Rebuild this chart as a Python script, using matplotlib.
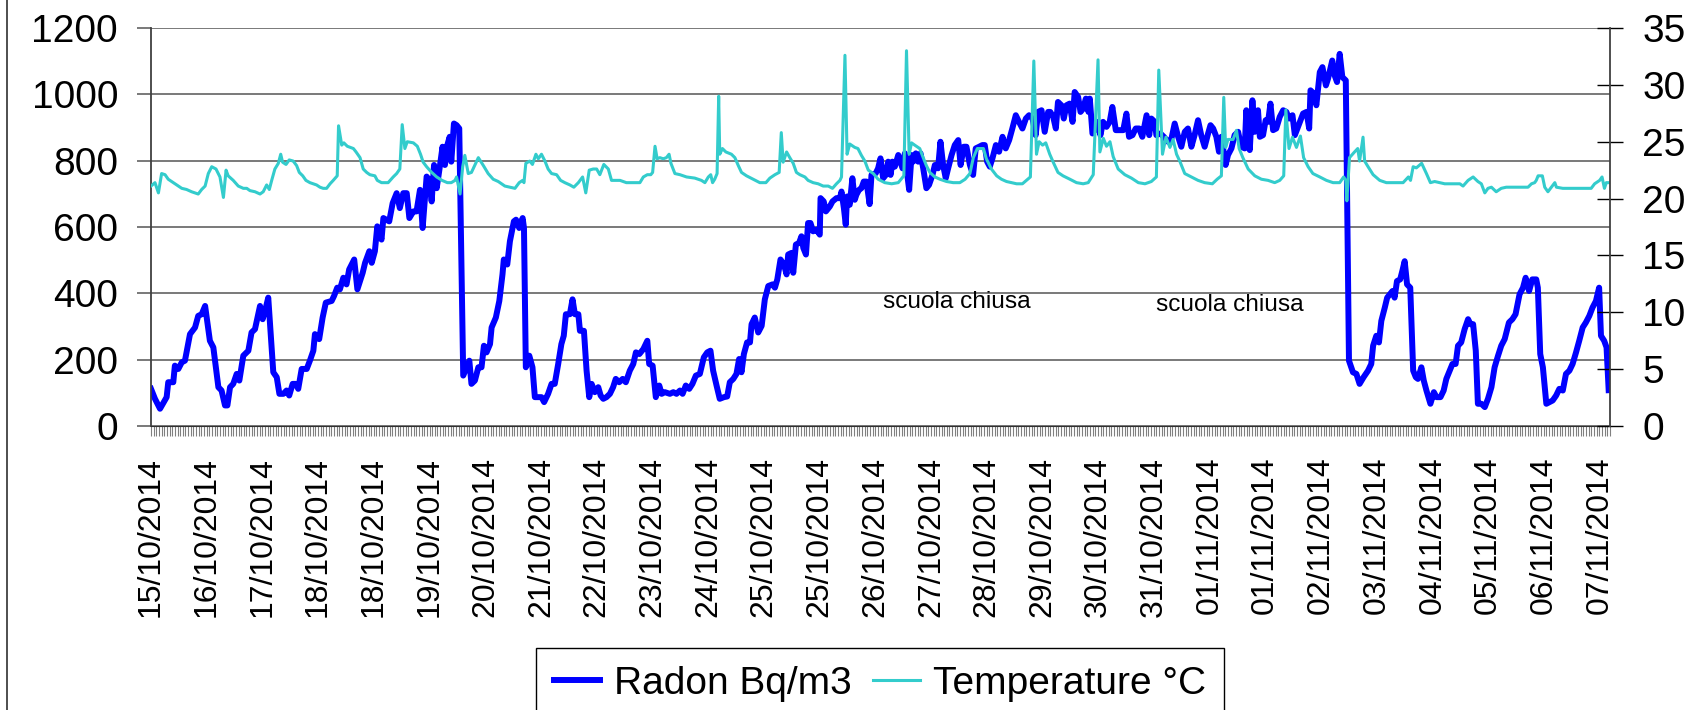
import matplotlib.pyplot as plt
from matplotlib.lines import Line2D
from matplotlib.ticker import MultipleLocator

plt.rcParams['font.family'] = ['Liberation Sans', 'DejaVu Sans']

# hourly readings (index in hours from the first sample)
radon_hour = [
    0, 1.5, 3.4, 5.9, 6.5, 8.4, 9.0, 10.3, 11.6, 12.8, 14.7, 16.6, 17.8, 19.1, 20.4, 22.2,
    23.5, 25.4, 26.6, 27.9, 28.8, 29.8, 31.0, 32.3, 33.3, 34.8, 36.7, 37.9, 39.2, 41.1, 42.1,
    43.0, 44.2, 46.1, 47.4, 48.4, 49.9, 51.1, 52.1, 53.4, 54.6, 55.5, 56.8, 58.7, 59.9, 61.2,
    61.8, 63.4, 64.7, 65.9, 68.1, 69.0, 70.2, 71.2, 72.5, 73.7, 74.7, 76.6, 77.8, 79.8, 80.7,
    82.3, 83.2, 84.4, 85.3, 86.9, 87.6, 89.8,
    91.1, 92.6, 93.8, 95.1, 96.4, 97.4, 98.9, 100.1, 101.4, 102.4, 103.9, 104.9, 105.8, 106.7,
    107.7, 108.7, 109.9, 110.8, 111.7, 112.6, 113.2, 114.2, 115.2, 116.2, 117.7, 119.0, 120.0,
    120.8, 122.1, 123.4, 124.6, 125.5, 126.5, 127.8, 128.4, 130.0, 131.3, 132.5, 133.0, 134.3,
    135.3, 136.8, 137.6, 138.8, 140.1, 140.6, 141.3, 142.6, 143.8, 144.7, 145.9, 147.2, 148.2,
    149.7, 151.0, 152.2, 153.5, 154.7, 155.6, 156.4, 157.9, 158.9, 159.8, 161.1, 161.7, 163.2,
    164.2, 165.2, 166.1, 167.3, 168.6, 169.5, 170.5, 171.7, 173.0, 174.2, 175.2, 176.5, 177.8,
    179.0, 180.5, 181.8, 182.8, 184.1,
    185.6, 187.1, 187.8, 189.1, 190.3, 191.6, 192.5, 193.7, 195.6, 196.9, 198.1, 199.4, 200.4,
    201.6, 202.9, 204.1, 205.4, 206.9, 208.4, 209.7, 210.9, 211.9, 213.2, 214.4, 216.0, 217.2,
    218.2, 219.5, 220.7, 221.7, 222.6, 223.5, 224.7, 225.8, 226.4, 227.6, 228.9, 230.2, 231.4,
    232.7, 234.3, 235.2, 236.1, 237.3, 238.6, 239.6, 240.2, 241.5, 242.1, 243.1, 244.3, 245.2,
    245.9, 246.9, 247.7, 248.6, 249.6, 250.9, 252.1, 252.4, 253.6, 254.4, 255.9, 256.9, 258.4,
    259.7, 260.3, 261.2, 261.9, 262.4, 263.4, 264.4, 265.3, 265.9, 266.9, 267.8, 268.7, 269.7,
    270.9, 271.6, 273.2, 274.1, 275.0, 276.0, 277.0, 277.9, 278.8, 279.5, 280.4, 281.7,
    283.3, 284.2, 284.8, 285.8, 286.7, 287.3, 288.3, 289.2, 290.1, 291.1, 292.3, 293.3, 294.6,
    295.5, 296.7, 297.6, 298.6, 299.6, 300.5, 301.8, 303.0, 304.3, 305.2, 306.4, 307.4, 308.7,
    309.9, 310.9, 312.2, 313.4, 314.3, 315.2, 316.2, 317.2, 318.5, 319.7, 321.0, 322.2, 323.5,
    324.7, 326.0, 327.2, 328.5, 329.8, 331.0, 332.3, 333.5, 334.4, 335.7, 336.9, 338.2, 339.0,
    340.1, 341.1, 341.9, 343.2, 344.1, 345.1, 346.3, 347.4, 348.2, 349.5, 350.4, 351.4, 352.4,
    353.4, 353.9, 354.9, 356.2, 357.0, 357.9, 358.9, 360.2, 361.4, 362.4, 363.7, 365.2, 366.5,
    367.7, 368.7, 370.0, 371.2, 372.5, 373.7,
    375.3, 376.3, 377.1, 378.4, 379.0, 380.5, 381.8, 383.4, 384.7, 385.9, 387.2, 388.4, 389.7,
    390.9, 392.2, 393.4, 394.7, 395.9, 397.2, 398.5, 399.4, 400.4, 401.6, 402.6, 403.5, 405.1,
    406.0, 407.3, 408.5, 409.8, 411.0, 412.3, 412.9, 414.2, 415.2, 416.1, 417.3, 418.0, 419.2,
    420.2, 421.1, 422.0, 423.0, 424.2, 425.5, 426.8, 428.0, 429.0, 430.3, 431.2, 432.4, 434.3,
    435.6, 436.6, 437.1, 438.4, 439.3, 440.6, 441.6, 442.9, 443.7, 445.3, 446.2, 447.1, 448.1,
    449.1, 450.4, 451.6, 453.1, 454.4, 455.6, 457.1, 458.8, 460.0, 460.7, 461.9, 462.9, 463.8,
    465.1, 466.0,
    468.0, 468.8, 469.7, 470.9, 471.7, 472.6, 473.5, 474.7, 475.8, 476.8, 477.6, 478.9, 479.8,
    480.8, 482.3, 483.6, 484.6, 486.1, 487.3, 488.3, 489.6, 490.6, 491.8, 492.7, 493.9, 495.2,
    496.5, 497.4, 498.4, 499.4, 500.2, 501.5, 502.8, 504.0, 505.3, 506.5, 507.8, 509.0, 510.3,
    511.9, 513.2, 514.4, 515.9, 517.2, 518.2, 519.5, 520.7, 522.2, 522.8, 523.7, 524.7, 526.0,
    527.2, 528.4, 529.7, 530.9, 532.2, 533.4, 534.7, 535.9, 537.2, 538.4, 539.7, 540.9, 542.2,
    543.4, 544.7, 545.9, 546.6, 547.8, 548.7, 549.5,
]
radon_bq = [
    112, 82, 52, 87, 132, 132, 182, 172, 192, 197, 277, 297, 332, 337, 362, 257,
    237, 117, 107, 62, 62, 117, 127, 157, 137, 212, 227, 282, 292, 362, 322,
    347, 387, 162, 147, 97, 97, 107, 92, 127, 127, 112, 172, 172, 197, 227,
    277, 262, 327, 372, 377, 392, 417, 412, 447, 427, 472, 502, 412, 462, 492,
    527, 492, 527, 602, 562, 627, 617,
    672, 702, 657, 702, 702, 627, 647, 647, 712, 597, 752, 742, 677, 787,
    717, 772, 842, 787, 847, 872, 797, 912, 907, 897, 152, 177, 197,
    127, 137, 177, 177, 242, 222, 247, 297, 327, 377, 457, 502, 487,
    557, 617, 622, 597, 627, 597, 177, 212, 177, 87, 87, 87, 72,
    97, 127, 127, 187, 247, 272, 337, 337, 382, 337, 337, 287, 287,
    167, 87, 127, 102, 117, 92, 82, 87, 97, 117, 142, 132, 142,
    132, 167, 187, 222, 217,
    232, 257, 187, 182, 87, 122, 97, 102, 97, 102, 97, 107, 97,
    122, 112, 127, 152, 157, 207, 222, 227, 167, 122, 82, 87, 89,
    132, 142, 157, 202, 162, 217, 252, 252, 307, 327, 282, 302, 382,
    422, 427, 417, 442, 502, 487, 457, 517, 522, 462, 547, 552, 572,
    537, 517, 612, 612, 587, 592, 577, 687, 677, 647, 662, 677, 687,
    687, 707, 657, 607, 692, 667, 747, 682, 697, 712, 717, 737, 737,
    669, 757, 762, 777, 807, 747, 757, 797, 757, 797, 782, 817,
    777, 822, 777, 712, 817, 797, 822, 797, 822, 777, 717, 727, 757,
    787, 777, 857, 787, 747, 777, 817, 847, 862, 787, 842, 842, 787,
    757, 837, 842, 847, 847, 797, 782, 807, 847, 827, 872, 837, 862,
    897, 937, 917, 897, 927, 937, 927, 877, 947, 952, 887, 947, 947,
    932, 897, 977, 967, 927, 967, 972, 917, 1007, 992, 947, 957, 987,
    947, 987, 882, 897, 917, 877, 917, 902, 917, 962, 892, 892, 892,
    942, 872, 877, 897, 897, 872,
    937, 877, 927, 917, 877, 882, 872, 857, 867, 912, 872, 842, 887,
    897, 842, 877, 922, 877, 842, 882, 907, 897, 872, 827, 872, 787,
    817, 837, 877, 887, 842, 837, 952, 832, 982, 887, 952, 872, 877,
    922, 917, 972, 892, 897, 932, 952, 947, 927, 937, 877, 902, 942,
    947, 897, 1012, 1002, 967, 1067, 1082, 1027, 1047, 1102, 1057, 1037, 1122,
    1052, 1042, 197, 162, 157, 127, 147, 167, 187, 242, 272, 252, 317,
    357, 387,
    407, 387, 437, 442, 467, 497, 427, 417, 167, 147, 142, 177, 137,
    107, 67, 102, 87, 87, 107, 142, 167, 187, 187, 242, 252, 292,
    322, 307, 307, 227, 67, 67, 57, 82, 117, 177, 212, 242, 262,
    312, 322, 337, 397, 417, 447, 407, 442, 442, 417, 217, 177, 67,
    72, 77, 92, 112, 107, 157, 167, 187, 222, 257, 297, 312, 332,
    357, 377, 417, 272, 257, 237, 108,
]

temp_hour = [
    0, 1.5, 2.8, 4.0, 5.3, 6.5, 8.4, 10.3, 11.6, 13.4, 15.3, 16.6, 17.8, 19.1, 20.4, 21.6,
    22.9, 24.5, 26.0, 27.3, 28.3, 29.1, 31.0, 32.9, 34.8, 36.1, 37.3, 39.2, 41.1, 42.3, 43.6,
    44.6, 45.5, 46.7, 48.0, 48.9, 49.6, 50.9, 52.1, 53.6, 54.9, 55.9, 57.2, 58.4, 59.9, 61.2,
    62.4, 63.7, 64.9, 66.2, 67.5, 68.7, 70.2, 70.7, 71.9, 72.7, 74.0, 76.3, 77.3, 78.8, 80.0,
    81.3, 82.5, 84.4, 85.3, 86.9, 89.4,
    91.3, 92.6, 93.8, 94.7, 95.7, 96.6, 98.9, 100.4, 101.6, 102.6, 103.9, 105.8, 107.7, 109.7,
    111.7, 113.2, 114.6, 115.2, 116.5, 117.5, 118.3, 119.6, 120.8, 123.4, 125.3, 127.1, 129.0,
    130.9, 133.4, 135.3, 137.2, 138.8, 140.1, 140.6, 141.3, 142.8, 143.8, 145.1, 146.0, 147.2,
    148.5, 149.7, 151.0, 152.9, 154.4, 156.0, 157.9, 159.4, 161.1, 162.7, 163.9, 165.2, 166.7,
    168.0, 169.2, 170.7, 172.4, 173.6, 176.8, 179.2, 181.8, 184.3,
    185.6, 187.1, 188.4, 189.1, 190.0, 190.8, 191.8, 193.1, 194.3, 195.3, 196.0, 197.5, 199.4,
    201.9, 205.0, 207.5, 208.8, 210.1, 211.0, 211.7, 212.5, 213.4, 214.0, 214.4, 215.4, 216.7,
    218.8, 220.1, 221.4, 222.6, 224.5, 227.0, 229.5, 231.8, 233.3, 235.2, 236.8, 237.6, 238.3,
    239.6, 240.8, 242.1, 243.3, 244.6, 246.5, 247.7, 249.6, 251.5, 253.4, 255.3, 256.9, 258.4,
    259.7, 260.3, 261.6, 262.4, 263.4, 265.3, 266.5, 267.8, 269.1, 270.4, 272.3, 274.1, 276.6,
    279.2, 281.7,
    283.8, 284.8, 285.8, 286.7, 287.9, 289.8, 291.1, 292.3, 293.6, 295.5, 297.4, 299.9, 302.4,
    304.9, 306.9, 308.7, 310.0, 311.5, 313.8, 314.9, 316.8, 318.8, 320.6, 322.5, 324.4, 326.3,
    328.5, 330.0, 331.5, 332.8, 333.8, 334.8, 336.1, 337.3, 338.8, 340.3, 341.9, 343.8, 346.4,
    348.9, 351.4, 353.3, 355.2, 357.0, 357.7, 359.0, 360.2, 361.5, 362.7, 364.6, 367.1, 369.6,
    372.2, 374.7,
    377.1, 379.0, 379.9, 381.3, 382.6, 384.1, 385.3, 386.6, 387.8, 389.7, 392.2, 394.7, 397.2,
    400.1, 401.9, 403.5, 404.4, 405.1, 406.0, 407.9, 409.2, 410.2, 411.6, 413.6, 416.1, 418.6,
    421.1, 423.6, 425.5, 427.0, 427.8, 429.0, 430.3, 431.8, 433.3, 434.5, 436.2, 438.0, 440.6,
    443.1, 445.6, 448.1, 449.6, 450.4, 450.8, 451.8, 453.7, 454.9, 455.6, 456.9, 457.5, 458.8,
    460.7, 463.2, 465.7,
    472.0, 474.0, 474.8, 475.8, 477.0, 479.0, 480.8, 482.3, 483.9, 485.8, 487.7, 493.4, 494.6,
    496.5, 498.4, 500.2, 501.5, 502.8, 504.0, 505.3, 507.1, 509.0, 510.9, 519.1, 520.4, 521.6,
    522.2, 522.9, 524.5, 525.4, 526.6, 527.9, 529.2, 529.8, 532.2, 542.9, 544.2, 546.1, 547.0,
    547.9, 548.6, 549.5,
]
temp_c = [
    21.1, 21.4, 20.5, 22.2, 22.1, 21.7, 21.4, 21.1, 20.9, 20.8, 20.6, 20.5, 20.4, 20.8, 21.1, 22.2,
    22.8, 22.6, 21.9, 20.1, 22.5, 22.0, 21.6, 21.1, 20.9, 20.9, 20.7, 20.6, 20.4, 20.6, 21.2,
    20.8, 21.6, 22.6, 23.1, 23.9, 23.2, 23.0, 23.4, 23.3, 22.9, 22.3, 22.0, 21.6, 21.4, 21.3,
    21.2, 21.0, 20.9, 20.9, 21.3, 21.6, 22.0, 26.4, 24.7, 24.9, 24.6, 24.4, 24.1, 23.6, 22.6,
    22.3, 22.1, 22.0, 21.6, 21.4, 21.4,
    21.9, 22.2, 22.6, 26.5, 24.4, 25.0, 24.9, 24.6, 23.9, 23.2, 22.8, 22.3, 21.9, 21.6,
    21.4, 21.4, 21.6, 21.9, 20.4, 22.8, 23.8, 22.2, 22.3, 23.6, 22.9, 22.2, 21.7,
    21.5, 21.1, 21.0, 20.9, 21.4, 21.6, 21.4, 23.1, 23.3, 23.0, 23.9, 23.5, 23.9,
    23.3, 22.6, 22.2, 22.1, 21.6, 21.4, 21.2, 21.0, 21.4, 21.9, 20.5, 22.5, 22.6,
    22.6, 22.1, 23.0, 22.6, 21.6, 21.6, 21.4, 21.4, 21.4,
    21.9, 22.1, 22.1, 22.3, 24.6, 23.5, 23.6, 23.5, 23.6, 23.9, 23.1, 22.2, 22.1,
    21.9, 21.8, 21.6, 21.4, 21.9, 22.1, 21.4, 21.7, 22.2, 29.0, 23.9, 24.4, 24.1,
    23.9, 23.6, 22.9, 22.3, 22.0, 21.7, 21.4, 21.4, 21.8, 22.1, 22.3, 25.8, 23.2,
    24.1, 23.6, 23.1, 22.3, 22.1, 21.9, 21.6, 21.4, 21.3, 21.1, 21.1, 20.9, 21.3,
    21.6, 21.9, 32.6, 23.9, 24.8, 24.5, 24.4, 23.8, 23.3, 22.5, 22.2, 21.7, 21.4,
    21.3, 21.4,
    22.0, 33.0, 23.9, 24.9, 24.7, 24.4, 23.6, 22.9, 22.3, 21.9, 21.7, 21.5, 21.4,
    21.4, 21.7, 22.2, 23.6, 24.4, 24.4, 23.5, 22.6, 22.0, 21.7, 21.5, 21.4, 21.3,
    21.3, 21.6, 21.9, 32.1, 23.9, 25.0, 24.7, 24.9, 23.9, 23.1, 22.3, 22.0, 21.7,
    21.4, 21.3, 21.4, 22.1, 32.2, 24.1, 25.3, 24.6, 25.0, 23.7, 22.6, 22.1, 21.8,
    21.4, 21.3,
    21.5, 21.9, 31.3, 23.9, 25.4, 24.5, 25.2, 23.9, 23.3, 22.2, 21.9, 21.6, 21.4,
    21.3, 21.7, 22.0, 28.9, 24.5, 25.2, 25.2, 26.0, 24.4, 23.6, 22.6, 22.0, 21.7,
    21.6, 21.4, 21.6, 22.0, 27.8, 24.4, 25.4, 24.5, 25.5, 23.6, 22.8, 22.2, 21.9,
    21.6, 21.4, 21.4, 21.9, 21.6, 19.8, 23.6, 24.1, 24.4, 23.3, 25.4, 23.3, 22.8,
    22.1, 21.6, 21.4,
    21.4, 21.9, 21.6, 22.8, 22.7, 23.1, 22.2, 21.4, 21.5, 21.4, 21.3, 21.3, 21.1,
    21.6, 21.9, 21.5, 21.3, 20.5, 20.9, 21.0, 20.6, 20.9, 21.0, 21.0, 21.3, 21.4,
    21.6, 22.0, 22.0, 21.0, 20.6, 21.0, 21.4, 21.0, 20.9, 20.9, 21.3, 21.6, 21.9,
    20.9, 21.4, 21.4,
]

date_labels = [
    '15/10/2014', '16/10/2014', '17/10/2014', '18/10/2014', '18/10/2014', '19/10/2014',
    '20/10/2014', '21/10/2014', '22/10/2014', '23/10/2014', '24/10/2014', '25/10/2014',
    '25/10/2014', '26/10/2014', '27/10/2014', '28/10/2014', '29/10/2014', '30/10/2014',
    '31/10/2014', '01/11/2014', '01/11/2014', '02/11/2014', '03/11/2014', '04/11/2014',
    '05/11/2014', '06/11/2014', '07/11/2014',
]
label_every = 21  # one date label every 21 hourly samples
n_hours = 550

fig = plt.figure(figsize=(17.02, 7.10), dpi=100)
ax1 = fig.add_axes([151 / 1702, 1 - 426 / 710, (1610 - 151) / 1702, (426 - 28) / 710])

l1, = ax1.plot(radon_hour, radon_bq, color='#0000FF', lw=4.3, solid_joinstyle='round',
               label='Radon Bq/m3')
ax2 = ax1.twinx()
l2, = ax2.plot(temp_hour, temp_c, color='#33CCCC', lw=2.2, label='Temperature °C')

ax1.set_xlim(0, n_hours)
ax1.set_ylim(0, 1200)
ax2.set_ylim(0, 35)
ax1.set_yticks(range(0, 1201, 200))
ax2.set_yticks(range(0, 36, 5))

ax1.yaxis.grid(True, color='#6e6e6e', lw=1.3)
ax1.set_axisbelow(True)

ax1.set_xticks(range(0, label_every * len(date_labels), label_every))
ax1.set_xticklabels(date_labels, rotation=90, fontsize=23)
ax1.xaxis.set_minor_locator(MultipleLocator(1))
ax1.tick_params(axis='x', which='both', direction='out', length=7, width=0.8,
                color='#808080', pad=15)
ax1.tick_params(axis='y', direction='out', length=10, width=1.3, color='#6e6e6e',
                labelsize=28, pad=13.7)
ax2.tick_params(axis='y', direction='inout', length=19, width=1, color='black',
                labelsize=28, pad=13.7)

for s in ['top', 'right']:
    ax1.spines[s].set_visible(False)
for s in ['top', 'left', 'bottom']:
    ax2.spines[s].set_visible(False)
ax1.spines['left'].set_color('#404040')
ax1.spines['bottom'].set_color('#303030')
ax2.spines['right'].set_color('#404040')
ax1.spines['left'].set_linewidth(1.3)
ax2.spines['right'].set_linewidth(1.3)

ax1.text(276, 374, 'scuola chiusa', fontsize=17.6, va='center', ha='left')
ax1.text(379, 365, 'scuola chiusa', fontsize=17.6, va='center', ha='left')

leg = fig.legend([l1, l2], [l1.get_label(), l2.get_label()], loc='upper center',
                 bbox_to_anchor=(880 / 1702, 62 / 710), ncol=2, fontsize=28,
                 frameon=True, fancybox=False, edgecolor='black', framealpha=1,
                 handlelength=1.2, handletextpad=0.35, columnspacing=0.55,
                 borderpad=0.45, borderaxespad=0)
leg.get_frame().set_linewidth(1)

# chart-area border on the left edge
fig.add_artist(Line2D([7 / 1702, 7 / 1702], [0, 1], transform=fig.transFigure,
                      color='#404040', lw=1.3))

fig.savefig('out.png', dpi=100)
